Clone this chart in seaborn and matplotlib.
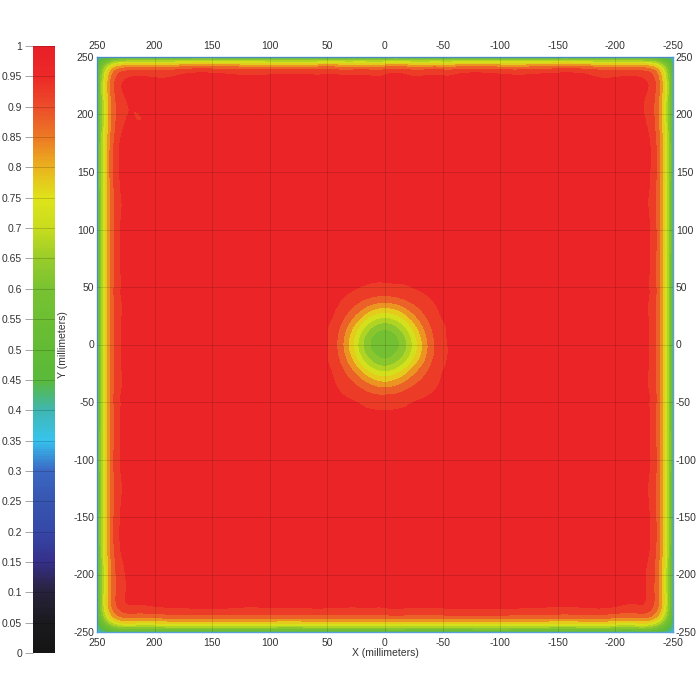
import numpy as np
import seaborn as sns
import matplotlib
matplotlib.use("Agg")
import matplotlib.pyplot as plt
import matplotlib.tri as mtri
from matplotlib.colors import LinearSegmentedColormap, Normalize
from matplotlib.cm import ScalarMappable

xs = [-250, -243, -235, -220, -180, -120, -60, -40, -20, 0, 20, 40, 60, 120, 180, 220, 235, 243, 250]
ys = [-250, -243, -235, -220, -180, -120, -60, -40, -20, 0, 20, 40, 60, 120, 180, 220, 235, 243, 250]
field = [
    [0.36, 0.42, 0.47, 0.49, 0.50, 0.50, 0.50, 0.50, 0.50, 0.50, 0.50, 0.50, 0.50, 0.50, 0.50, 0.49, 0.47, 0.42, 0.36],
    [0.42, 0.56, 0.68, 0.73, 0.738, 0.74, 0.74, 0.74, 0.74, 0.74, 0.74, 0.74, 0.74, 0.74, 0.738, 0.73, 0.68, 0.56, 0.42],
    [0.47, 0.68, 0.83, 0.885, 0.898, 0.90, 0.905, 0.90, 0.90, 0.90, 0.90, 0.90, 0.90, 0.90, 0.898, 0.885, 0.83, 0.68, 0.47],
    [0.49, 0.73, 0.885, 0.958, 0.968, 0.97, 0.97, 0.965, 0.965, 0.965, 0.965, 0.965, 0.965, 0.965, 0.968, 0.958, 0.885, 0.73, 0.49],
    [0.50, 0.738, 0.898, 0.968, 0.975, 0.978, 0.978, 0.978, 0.978, 0.978, 0.978, 0.978, 0.978, 0.978, 0.975, 0.968, 0.898, 0.738, 0.50],
    [0.50, 0.74, 0.90, 0.965, 0.978, 0.98, 0.98, 0.98, 0.98, 0.98, 0.98, 0.98, 0.98, 0.98, 0.978, 0.965, 0.90, 0.74, 0.50],
    [0.50, 0.74, 0.90, 0.965, 0.978, 0.98, 0.978, 0.968, 0.958, 0.952, 0.958, 0.97, 0.98, 0.98, 0.978, 0.965, 0.90, 0.74, 0.50],
    [0.50, 0.74, 0.90, 0.965, 0.978, 0.98, 0.97, 0.945, 0.905, 0.87, 0.905, 0.95, 0.975, 0.98, 0.978, 0.965, 0.90, 0.74, 0.50],
    [0.50, 0.74, 0.90, 0.965, 0.978, 0.98, 0.962, 0.905, 0.76, 0.66, 0.76, 0.915, 0.972, 0.98, 0.978, 0.965, 0.90, 0.74, 0.50],
    [0.50, 0.74, 0.90, 0.965, 0.978, 0.98, 0.958, 0.875, 0.66, 0.56, 0.66, 0.885, 0.97, 0.98, 0.978, 0.965, 0.90, 0.74, 0.50],
    [0.50, 0.74, 0.90, 0.965, 0.978, 0.98, 0.962, 0.91, 0.76, 0.66, 0.76, 0.915, 0.972, 0.98, 0.978, 0.965, 0.90, 0.74, 0.50],
    [0.50, 0.74, 0.90, 0.965, 0.978, 0.98, 0.97, 0.95, 0.91, 0.88, 0.91, 0.955, 0.975, 0.98, 0.978, 0.965, 0.90, 0.74, 0.50],
    [0.50, 0.74, 0.90, 0.965, 0.978, 0.98, 0.978, 0.97, 0.962, 0.958, 0.962, 0.972, 0.98, 0.98, 0.978, 0.965, 0.90, 0.74, 0.50],
    [0.50, 0.74, 0.90, 0.965, 0.978, 0.98, 0.98, 0.98, 0.98, 0.98, 0.98, 0.98, 0.98, 0.98, 0.978, 0.965, 0.90, 0.74, 0.50],
    [0.50, 0.738, 0.898, 0.968, 0.975, 0.978, 0.978, 0.978, 0.978, 0.978, 0.978, 0.978, 0.978, 0.978, 0.975, 0.968, 0.898, 0.738, 0.50],
    [0.50, 0.736, 0.895, 0.965, 0.972, 0.975, 0.975, 0.975, 0.975, 0.975, 0.975, 0.975, 0.975, 0.975, 0.972, 0.965, 0.895, 0.736, 0.50],
    [0.48, 0.71, 0.87, 0.935, 0.943, 0.945, 0.945, 0.945, 0.945, 0.945, 0.945, 0.945, 0.945, 0.945, 0.943, 0.935, 0.87, 0.71, 0.48],
    [0.44, 0.61, 0.735, 0.79, 0.80, 0.80, 0.80, 0.80, 0.80, 0.80, 0.80, 0.80, 0.80, 0.80, 0.80, 0.79, 0.735, 0.61, 0.44],
    [0.36, 0.42, 0.47, 0.49, 0.50, 0.50, 0.50, 0.50, 0.50, 0.50, 0.50, 0.50, 0.50, 0.50, 0.50, 0.49, 0.47, 0.42, 0.36],
]

axis_ticks = list(range(-250, 251, 50))
cbar_ticks = [round(0.05 * i, 2) for i in range(21)]

cmap_nodes = [
    (0.00, "#151515"), (0.05, "#1a1a1e"), (0.10, "#28223c"), (0.15, "#35308a"),
    (0.20, "#3548a8"), (0.25, "#3656b0"), (0.30, "#3b68c4"), (0.35, "#36c4ee"),
    (0.40, "#40b6b0"), (0.45, "#5aba3a"), (0.50, "#62bb34"), (0.60, "#78c232"),
    (0.65, "#98cc2a"), (0.70, "#c8dc1e"), (0.75, "#dfe41a"), (0.80, "#eab41e"),
    (0.85, "#ec7a24"), (0.90, "#ec4e2a"), (0.95, "#ec2a27"), (1.00, "#e81f27"),
]

sns.set_theme(style="white")
plt.rcParams["font.family"] = ["Liberation Sans", "DejaVu Sans"]
plt.rcParams["axes.unicode_minus"] = False
txt = "#333333"

cmap = LinearSegmentedColormap.from_list("heat", cmap_nodes)
norm = Normalize(vmin=0, vmax=1)

fig = plt.figure(figsize=(7, 7), dpi=100)
ax = fig.add_axes([97 / 700, 68 / 700, 576 / 700, 575 / 700])
cax = fig.add_axes([33 / 700, 47 / 700, 22 / 700, 607 / 700])

# smooth contour map
X, Y = np.meshgrid(xs, ys)
tri = mtri.Triangulation(X.ravel(), Y.ravel())
refiner = mtri.UniformTriRefiner(tri)
tri_r, z_r = refiner.refine_field(np.array(field).ravel(), subdiv=3)
ax.tricontourf(tri_r, z_r, levels=np.arange(0, 1.0001, 0.05), cmap=cmap, norm=norm, extend="both")

ax.set_xlim(250, -250)
ax.set_ylim(-250, 250)
ax.set_xticks(axis_ticks)
ax.set_yticks(axis_ticks)
ax.grid(True, color="black", alpha=0.15, lw=0.6)
ax.set_axisbelow(False)
ax.tick_params(axis="both", length=0, labelsize=7.5, labelcolor=txt,
               top=True, labeltop=True, right=True, labelright=True, pad=2)
ax.tick_params(axis="x", pad=4)
for s in ax.spines.values():
    s.set_color("#5aa0d8")
    s.set_linewidth(1)

ax.set_xlabel("X (millimeters)", fontsize=7.5, color=txt)
ax.xaxis.set_label_coords(0.5, -0.027)
ax.set_ylabel("Y (millimeters)", fontsize=7.5, color=txt)
ax.yaxis.set_label_coords(-0.05, 0.5)

# colour bar on the left
cb = fig.colorbar(ScalarMappable(norm=norm, cmap=cmap), cax=cax)
cb.outline.set_visible(False)
cax.yaxis.set_ticks_position("left")
cax.set_yticks(cbar_ticks)
cax.set_yticklabels([f"{t:g}" for t in cbar_ticks])
cax.tick_params(axis="y", length=6, width=0.6, color="#999999", labelsize=7.5, labelcolor=txt, pad=2)
for t in cbar_ticks:
    cax.axhline(t, color="black", alpha=0.2, lw=0.6)

fig.savefig("out.png", dpi=100)
